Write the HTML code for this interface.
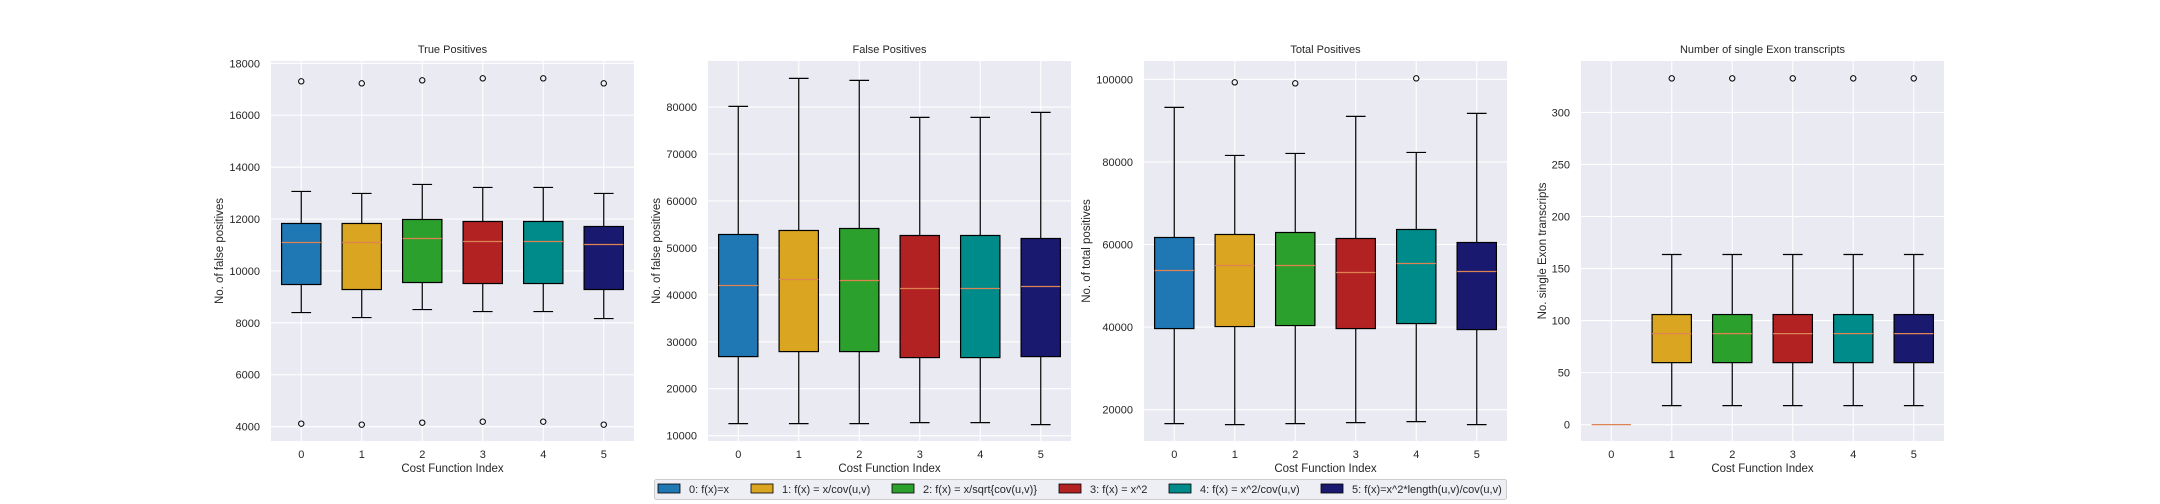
<!DOCTYPE html>
<html><head><meta charset="utf-8">
<style>
html,body{margin:0;padding:0;background:#fff;}
svg{display:block;font-family:"Liberation Sans","DejaVu Sans",sans-serif;}
</style></head>
<body>
<svg id="chart" width="2160" height="504" viewBox="0 0 2160 504" xmlns="http://www.w3.org/2000/svg"></svg>
<script>
const categories = ["0","1","2","3","4","5"];
const colors = ["#1f77b4","#daa520","#2ca02c","#b22222","#008b8b","#191970"];
const legendLabels = ["0: f(x)=x","1: f(x) = x/cov(u,v)","2: f(x) = x/sqrt{cov(u,v)}","3: f(x) = x^2","4: f(x) = x^2/cov(u,v)","5: f(x)=x^2*length(u,v)/cov(u,v)"];

// [whiskerLow, Q1, median, Q3, whiskerHigh]
const tpStats = [[8397,9477,11097,11829,13063],[8204,9284,11097,11829,12986],[8512,9554,11251,11983,13333],[8435,9515,11135,11906,13218],[8435,9515,11135,11906,13218],[8165,9284,11019,11713,12986]];
const tpOutliers = [[17306,4116],[17229,4077],[17344,4154],[17422,4193],[17422,4193],[17229,4077]];
const tpTicks = [4000,6000,8000,10000,12000,14000,16000,18000];

const fpStats = [[12558,26843,41982,52855,80146],[12558,27909,43261,53708,86116],[12558,27909,43048,54134,85690],[12772,26630,41342,52642,77801],[12772,26630,41342,52642,77801],[12345,26843,41769,52003,78867]];
const fpOutliers = [[],[],[],[],[],[]];
const fpTicks = [10000,20000,30000,40000,50000,60000,70000,80000];

const totStats = [[16606,39636,53697,61697,93212],[16364,40121,54909,62424,81576],[16606,40364,54909,62909,82061],[16848,39636,53212,61455,91030],[17091,40849,55394,63636,82303],[16364,39394,53455,60485,91758]];
const totOutliers = [[],[99275],[99032],[],[100244],[]];
const totTicks = [20000,40000,60000,80000,100000];

const seStats = [[0,0,0,0,0],[18.3,59.6,87.5,105.8,163.5],[18.3,59.6,87.5,105.8,163.5],[18.3,59.6,87.5,105.8,163.5],[18.3,59.6,87.5,105.8,163.5],[18.3,59.6,87.5,105.8,163.5]];
const seOutliers = [[],[332.7],[332.7],[332.7],[332.7],[332.7]];
const seTicks = [0,50,100,150,200,250,300];

const NS="http://www.w3.org/2000/svg";
const svg=document.getElementById('chart');
function mk(tag,attrs,parent){const e=document.createElementNS(NS,tag);for(const k in attrs)e.setAttribute(k,attrs[k]);(parent||svg).appendChild(e);return e;}

const panels=[
 {key:"tp",title:"True Positives",ylabel:"No. of false positives",x0:271,x1:634,ymin:3447,ymax:18090,stats:tpStats,out:tpOutliers,ticks:tpTicks,ylx:219},
 {key:"fp",title:"False Positives",ylabel:"No. of false positives",x0:708,x1:1071,ymin:8863,ymax:89812,stats:fpStats,out:fpOutliers,ticks:fpTicks,ylx:656},
 {key:"tot",title:"Total Positives",ylabel:"No. of total positives",x0:1144,x1:1507,ymin:12404,ymax:104447,stats:totStats,out:totOutliers,ticks:totTicks,ylx:1086},
 {key:"se",title:"Number of single Exon transcripts",ylabel:"No. single Exon transcripts",x0:1581,x1:1944,ymin:-15.7,ymax:349.4,stats:seStats,out:seOutliers,ticks:seTicks,ylx:1542}
];
const Y0=61, Y1=441;

panels.forEach(p=>{
  const g=mk('g',{});
  
  
  const xs=i=>p.x0+(i+0.5)*(p.x1-p.x0)/6;
  const ys=v=>Y1-(v-p.ymin)/(p.ymax-p.ymin)*(Y1-Y0);
  const unit=(p.x1-p.x0)/6;
  const bg=mk('rect',{x:p.x0,y:Y0,width:p.x1-p.x0,height:Y1-Y0,fill:'#eaeaf2'},g);
  
  
  p.ticks.forEach(t=>{
    const y=ys(t);
    const l=mk('line',{x1:p.x0,x2:p.x1,y1:y,y2:y,stroke:'#fff','stroke-width':1.1},g);
    
    
    const tx=mk('text',{x:p.x0-11,y:y+4,'text-anchor':'end','font-size':11,fill:'#262626'},g);
    tx.textContent=t;
    
    
  });
  categories.forEach((c,i)=>{
    const x=xs(i);
    const l=mk('line',{x1:x,x2:x,y1:Y0,y2:Y1,stroke:'#fff','stroke-width':1.1},g);
    
    
    const tx=mk('text',{x:x,y:458,'text-anchor':'middle','font-size':11,fill:'#262626'},g);
    tx.textContent=c;
    
    
  });
  categories.forEach((c,i)=>{
    const s=p.stats[i]; const x=xs(i); const bw=0.65*unit; const cw=bw/2;
    const bg2=mk('g',{},g);
    
    
    if(s[4]>s[0]){
      mk('line',{x1:x,x2:x,y1:ys(s[0]),y2:ys(s[1]),stroke:'#000','stroke-width':1.2},bg2);
      mk('line',{x1:x,x2:x,y1:ys(s[3]),y2:ys(s[4]),stroke:'#000','stroke-width':1.2},bg2);
      mk('line',{x1:x-cw/2,x2:x+cw/2,y1:ys(s[0]),y2:ys(s[0]),stroke:'#000','stroke-width':1.2},bg2);
      mk('line',{x1:x-cw/2,x2:x+cw/2,y1:ys(s[4]),y2:ys(s[4]),stroke:'#000','stroke-width':1.2},bg2);
      mk('rect',{x:x-bw/2,y:ys(s[3]),width:bw,height:ys(s[1])-ys(s[3]),fill:colors[i],stroke:'#000','stroke-width':1.2},bg2);
    }
    mk('line',{x1:x-bw/2,x2:x+bw/2,y1:ys(s[2]),y2:ys(s[2]),stroke:'#dd8452','stroke-width':1.2},bg2);
    p.out[i].forEach(o=>{
      const ci=mk('circle',{cx:x,cy:ys(o),r:2.7,fill:'none',stroke:'#000','stroke-width':1},bg2);
      
      
    });
  });
  const cx=(p.x0+p.x1)/2;
  const tt=mk('text',{x:cx,y:53,'text-anchor':'middle','font-size':11,fill:'#262626'},g);
  tt.textContent=p.title;
  
  
  const xl=mk('text',{x:cx,y:472,'text-anchor':'middle','font-size':11.5,fill:'#262626'},g);
  xl.textContent="Cost Function Index";
  
  
  const yl=mk('text',{x:0,y:0,'text-anchor':'middle','font-size':11.5,fill:'#262626',transform:'translate('+(p.ylx+4)+',251) rotate(-90)'},g);
  yl.textContent=p.ylabel;
  
  
});

// legend
const lg=mk('g',{});


mk('rect',{x:654.5,y:479.5,width:852,height:20,fill:'#eaeaf2','fill-opacity':0.8,stroke:'#cccccc',rx:2},lg);
const patchX=[658,751,892,1059,1169,1321];
legendLabels.forEach((t,i)=>{
  const e=mk('g',{},lg);
  
  
  mk('rect',{x:patchX[i],y:484,width:22,height:9,fill:colors[i],stroke:'#000','stroke-width':0.8},e);
  const tx=mk('text',{x:patchX[i]+31,y:493,'font-size':11,fill:'#262626'},e);
  tx.textContent=t;
});
</script>
</body></html>
